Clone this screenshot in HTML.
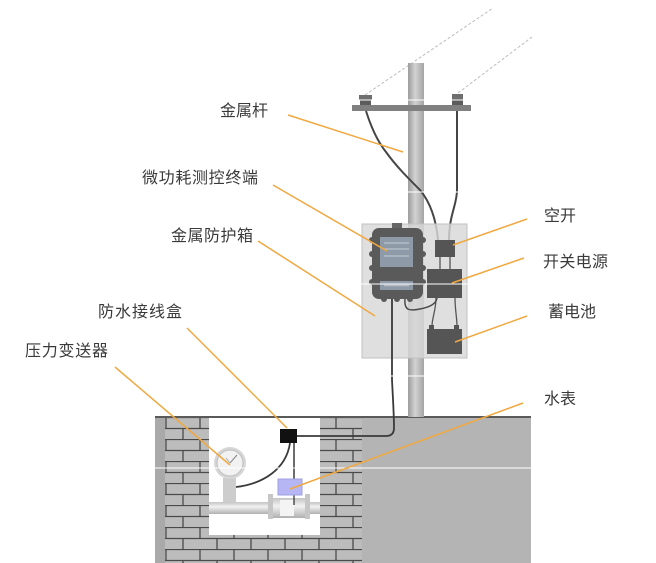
<!DOCTYPE html>
<html><head><meta charset="utf-8"><style>
html,body{margin:0;padding:0;background:#fff;}
svg{display:block;}
text{font-family:"Liberation Sans","Noto Sans CJK SC",sans-serif;font-size:16px;fill:#3a3a3a;}
</style></head><body>
<svg width="656" height="563" viewBox="0 0 656 563" xmlns="http://www.w3.org/2000/svg">
<defs>
<linearGradient id="pole" x1="0" x2="1" y1="0" y2="0">
<stop offset="0" stop-color="#9c9c9c"/><stop offset="0.45" stop-color="#d2d2d2"/><stop offset="1" stop-color="#a4a4a4"/>
</linearGradient>
<linearGradient id="pipe" x1="0" x2="0" y1="0" y2="1">
<stop offset="0" stop-color="#c4c4c4"/><stop offset="0.4" stop-color="#f2f2f2"/><stop offset="1" stop-color="#b0b0b0"/>
</linearGradient>
<pattern id="brick" patternUnits="userSpaceOnUse" x="165" y="417" width="34" height="22">
<rect width="34" height="22" fill="#bcbcbc"/>
<line x1="0" y1="0.5" x2="34" y2="0.5" stroke="#4a4a4a" stroke-width="1.3"/>
<line x1="0" y1="11.5" x2="34" y2="11.5" stroke="#4a4a4a" stroke-width="1.3"/>
<line x1="1" y1="0" x2="1" y2="11" stroke="#4a4a4a" stroke-width="1.3"/>
<line x1="18" y1="11" x2="18" y2="22" stroke="#4a4a4a" stroke-width="1.3"/>
</pattern>
</defs>

<!-- overhead dashed wires -->
<line x1="365" y1="95" x2="493" y2="8" stroke="#bdbdbd" stroke-width="1" stroke-dasharray="3 2"/>
<line x1="458" y1="93" x2="532" y2="37" stroke="#bdbdbd" stroke-width="1" stroke-dasharray="3 2"/>

<!-- ground -->
<rect x="155" y="417" width="376" height="146" fill="#b4b4b4"/>
<rect x="155" y="417" width="10" height="146" fill="#a9a9a9"/>
<rect x="165" y="417" width="44" height="146" fill="url(#brick)"/>
<rect x="320" y="417" width="42" height="146" fill="url(#brick)"/>
<rect x="165" y="535" width="197" height="28" fill="url(#brick)"/>
<rect x="209" y="418" width="111" height="117" fill="#ffffff"/>
<line x1="155" y1="417" x2="531" y2="417" stroke="#5a5a5a" stroke-width="2"/>

<!-- pole -->
<rect x="408" y="63" width="16" height="354" fill="url(#pole)"/>
<rect x="352" y="105" width="119" height="6" fill="#808080"/>
<rect x="359" y="95" width="13" height="5" fill="#6e6e6e"/>
<rect x="360" y="100" width="11" height="5" fill="#5c5c5c"/>
<rect x="452" y="94" width="11" height="6" fill="#6e6e6e"/>
<rect x="452" y="100" width="11" height="5" fill="#5c5c5c"/>

<!-- power wires -->
<path d="M366 111 C372 130 378 142 386 152 C396 166 408 178 420 190 C430 202 436 218 438 240" fill="none" stroke="#454545" stroke-width="2"/>
<path d="M457 111 L457 190 C457 205 449 215 449 240" fill="none" stroke="#454545" stroke-width="2"/>

<!-- metal box -->
<rect x="362" y="224" width="105" height="134" fill="#d8d8d8" fill-opacity="0.82" stroke="#c2c2c2" stroke-width="1"/>

<!-- terminal -->
<rect x="392" y="223" width="10" height="6" fill="#666"/>
<g fill="#5a5a5a">
<rect x="372" y="228" width="51" height="71" rx="7"/>
<circle cx="372" cy="240" r="3"/><circle cx="372" cy="254" r="3"/><circle cx="372" cy="268" r="3"/><circle cx="372" cy="282" r="3"/>
<circle cx="423" cy="240" r="3"/><circle cx="423" cy="254" r="3"/><circle cx="423" cy="268" r="3"/><circle cx="423" cy="282" r="3"/>
<circle cx="384" cy="299" r="3"/><circle cx="397" cy="299" r="3"/><circle cx="410" cy="299" r="3"/>
</g>
<rect x="380" y="237" width="33" height="30" fill="#8f9aa8"/>
<line x1="384" y1="243" x2="409" y2="243" stroke="#b4bcc6" stroke-width="1.5"/>
<line x1="384" y1="249" x2="409" y2="249" stroke="#b4bcc6" stroke-width="1.5"/>
<line x1="384" y1="256" x2="409" y2="256" stroke="#b4bcc6" stroke-width="1.5"/>
<rect x="380" y="281" width="33" height="9" fill="#8f9aa8"/>
<line x1="384" y1="285.5" x2="409" y2="285.5" stroke="#b4bcc6" stroke-width="1.5"/>

<!-- breaker, PSU, battery -->
<rect x="435" y="240" width="20" height="17" fill="#555"/>
<line x1="440" y1="257" x2="440" y2="269" stroke="#555" stroke-width="1.3"/>
<line x1="450" y1="257" x2="450" y2="269" stroke="#555" stroke-width="1.3"/>
<rect x="427" y="269" width="35" height="29" fill="#555"/>
<path d="M436 298 C436 310 432 318 432 326" fill="none" stroke="#555" stroke-width="1.3"/>
<path d="M455 298 C455 310 457 318 457 326" fill="none" stroke="#555" stroke-width="1.3"/>
<rect x="429" y="325" width="5" height="4" fill="#555"/>
<rect x="454" y="325" width="5" height="4" fill="#555"/>
<rect x="427" y="329" width="35" height="25" fill="#555"/>

<!-- terminal wires -->
<path d="M405 299 C404 311 410 311 420 309 C430 307 436 304 437 298" fill="none" stroke="#4a4a4a" stroke-width="1.5"/>
<path d="M392 299 L392 380 C393 400 394 415 394 428 Q394 436 386 436 L297 436" fill="none" stroke="#3a3a3a" stroke-width="1.8"/>

<!-- junction box & pit contents -->
<rect x="280" y="429" width="17" height="14" fill="#111"/>
<path d="M290 443 C286 470 262 484 236 487" fill="none" stroke="#3a3a3a" stroke-width="1.8"/>
<line x1="294" y1="443" x2="294" y2="480" stroke="#3a3a3a" stroke-width="1.5"/>

<rect x="223" y="478" width="13" height="26" fill="#cdcdcd"/>
<circle cx="230" cy="463" r="16" fill="#d6d6d6"/>
<circle cx="230" cy="463" r="13" fill="#f2f2f2" stroke="#bdbdbd" stroke-width="1"/>
<line x1="230" y1="463" x2="237" y2="455" stroke="#888" stroke-width="1"/>
<line x1="230" y1="463" x2="226" y2="458" stroke="#aaa" stroke-width="1"/>

<rect x="209" y="502" width="111" height="12" fill="url(#pipe)"/>
<rect x="272" y="498" width="34" height="20" fill="url(#pipe)"/>
<rect x="280" y="500" width="14" height="16" fill="#f4f4f4"/>
<rect x="268" y="494" width="5" height="25" fill="#c6c6c6"/>
<rect x="305" y="494" width="5" height="25" fill="#c6c6c6"/>
<line x1="294" y1="495" x2="294" y2="505" stroke="#3a3a3a" stroke-width="1.3"/>
<rect x="278" y="479" width="24" height="16" fill="#b6b6f4" stroke="#a0a0e2" stroke-width="1"/>

<!-- artifact white lines -->
<g stroke="#ffffff" stroke-width="1">
<line x1="0" y1="100" x2="656" y2="100"/>
<line x1="0" y1="192" x2="656" y2="192"/>
<line x1="0" y1="284" x2="656" y2="284"/>
<line x1="0" y1="376" x2="656" y2="376"/>
<line x1="0" y1="468" x2="656" y2="468"/>
</g>

<!-- leader lines -->
<g stroke="#f0a840" stroke-width="1.5" fill="none">
<line x1="288" y1="115" x2="403" y2="152"/>
<line x1="273" y1="185" x2="387" y2="251"/>
<line x1="258" y1="241" x2="375" y2="316"/>
<line x1="187" y1="328" x2="287" y2="428"/>
<line x1="115" y1="367" x2="230" y2="465"/>
<line x1="527" y1="219" x2="453" y2="245"/>
<line x1="524" y1="258" x2="452" y2="283"/>
<line x1="527" y1="316" x2="455" y2="342"/>
<line x1="523" y1="403" x2="290" y2="489"/>
</g>

<!-- labels -->
<text x="220" y="116">金属杆</text>
<text x="142" y="183" textLength="116">微功耗测控终端</text>
<text x="171" y="241" textLength="82">金属防护箱</text>
<text x="98" y="317" textLength="84">防水接线盒</text>
<text x="25" y="356" textLength="83">压力变送器</text>
<text x="544" y="221">空开</text>
<text x="543" y="267" textLength="65">开关电源</text>
<text x="548" y="317">蓄电池</text>
<text x="544" y="404">水表</text>
</svg>
</body></html>
